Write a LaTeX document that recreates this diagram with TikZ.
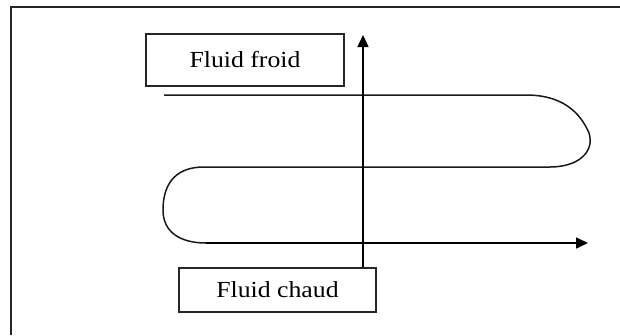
\documentclass[tikz,border=0pt]{standalone}
\usepackage{fontspec}
\setmainfont{Liberation Serif}
\usetikzlibrary{arrows.meta}
\tikzset{
  lbl/.style={draw=black!85, line width=1.3pt, inner sep=0pt, fill=white,
    font=\fontsize{23}{26}\selectfont},
  flow/.style={draw=black!90, line width=1.5pt},
  axis/.style={draw=black, line width=1.6pt, -{Triangle[length=12pt,width=11pt]}}
}
\begin{document}
\begin{tikzpicture}[x=1pt,y=-1pt]
\useasboundingbox (0,0) rectangle (620,335);
\fill[white] (0,0) rectangle (620,335);
\draw[line width=1.5pt, black!85] (11,335) -- (11,7) -- (620,7);
% flow line
\coordinate (s) at (164,95);
\coordinate (e) at (588,243);
\draw[flow] (s) -- (526,95) .. controls (562,95) and (580,112) .. (589,133)
  .. controls (595,152) and (578,167) .. (550,167) -- (204,167)
  .. controls (172,167) and (163,188) .. (163,210)
  .. controls (163,232) and (180,243) .. (206,243);
\draw[axis] (206,243) -- (e);
% boxes
\node[lbl, minimum width=198pt, minimum height=52pt] (froid) at (245,60) {\scalebox{1.12}[1]{Fluid froid}};
\node[lbl, minimum width=197pt, minimum height=44pt] (chaud) at (277.5,290) {\scalebox{1.12}[1]{Fluid chaud}};
\coordinate (top) at (363,35);
\draw[axis] (chaud.north -| top) -- (top);
\end{tikzpicture}
\end{document}
